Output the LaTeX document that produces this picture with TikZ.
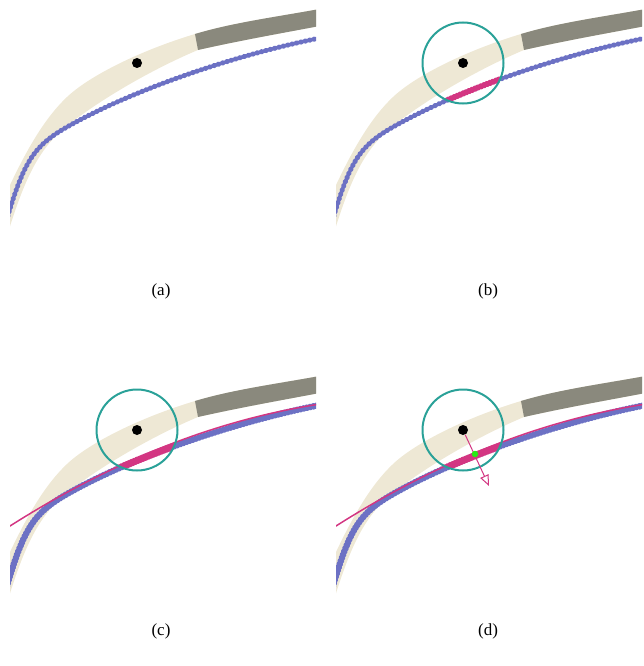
\documentclass[tikz,border=0pt]{standalone}
\usepackage{fontspec}
\setmainfont{Liberation Serif}
\usetikzlibrary{arrows.meta}
\definecolor{beige}{HTML}{EEE8D5}
\definecolor{bandgray}{RGB}{138,137,125}
\definecolor{violetc}{HTML}{6C71C4}
\definecolor{magentac}{HTML}{D33682}
\definecolor{cyanc}{HTML}{2AA198}
\definecolor{greenc}{RGB}{40,235,20}

\newcommand{\fillband}[1]{%
  \fill[#1] (4,198) .. controls (27,147.3) and (45.9,117) .. (67,97)
    .. controls (89.7,75.5) and (140.9,50.3) .. (195,34)
    .. controls (235,22) and (280,16.5) .. (325,8)
    -- (325,25) .. controls (280,33.5) and (240,40.5) .. (198,50)
    .. controls (152.5,69.1) and (100.1,99.5) .. (67,126)
    .. controls (40.6,147.1) and (25.6,174.6) .. (7,236) -- cycle;}
\newcommand{\drawblue}[1]{%
  \draw[#1] (4,229) .. controls (23.2,161.9) and (32.7,146.6) .. (67,127)
    .. controls (129.3,91.5) and (230.5,55.9) .. (320,38);}
\newcommand{\panelbase}[1]{%
  \begin{scope}
    \clip (10,0) rectangle (316,260);
    \fillband{beige}
    \begin{scope}
      \clip (188.6,0) -- (330,0) -- (330,100) -- (207.4,100) -- cycle;
      \fillband{bandgray}
    \end{scope}
    \drawblue{#1}
  \end{scope}}
\newcommand{\pinkpart}[1]{%
  \begin{scope}
    \clip (137,63) circle[radius=40.5];
    \drawblue{#1}
  \end{scope}}
\newcommand{\fitcurve}{%
  \begin{scope}
    \clip (10,0) rectangle (316,260);
    \draw[fitline] plot[domain=5:320, samples=80] (\x, {159 - 0.5514*(\x-10) + 0.000781*(\x-10)*(\x-117)});
  \end{scope}}

\begin{document}
\begin{tikzpicture}[x=1pt, y=-1pt,
  bluedots/.style={violetc, line width=5pt, line cap=round, dash pattern=on 0.7pt off 3.8pt},
  bluethick/.style={violetc, line width=6.4pt, line cap=round, dash pattern=on 1pt off 2.3pt},
  pinkdots/.style={magentac, line width=6pt, line cap=round, dash pattern=on 0.9pt off 2.3pt},
  pinkthick/.style={magentac, line width=7.2pt, line cap=round, dash pattern=on 1.4pt off 1.4pt},
  fitline/.style={magentac, line width=1.5pt},
  ring/.style={circle, draw=cyanc, line width=2pt, minimum size=81pt, inner sep=0pt},
  blackdot/.style={circle, fill=black, minimum size=10pt, inner sep=0pt},
  greendot/.style={circle, fill=greenc, minimum size=6.5pt, inner sep=0pt},
  normalarrow/.style={magentac, line width=1pt, -{Triangle[open, length=11pt, width=9pt]}},
  lab/.style={font=\fontsize{17}{20}\selectfont, inner sep=0pt}]
\useasboundingbox (0,0) rectangle (643,666);

% (a)
\begin{scope}
  \panelbase{bluedots}
  \node[blackdot] (pa) at (137,63) {};
\end{scope}
\node[lab] (la) at (161,291) {(a)};

% (b)
\begin{scope}[shift={(326,0)}]
  \panelbase{bluedots}
  \pinkpart{pinkdots}
  \node[ring] (rb) at (137,63) {};
  \node[blackdot] (pb) at (137,63) {};
\end{scope}
\node[lab] (lb) at (488,291) {(b)};

% (c)
\begin{scope}[shift={(0,367)}]
  \panelbase{bluethick}
  \pinkpart{pinkthick}
  \fitcurve
  \node[ring] (rc) at (137,63) {};
  \node[blackdot] (pc) at (137,63) {};
\end{scope}
\node[lab] (lc) at (161,631) {(c)};

% (d)
\begin{scope}[shift={(326,367)}]
  \panelbase{bluethick}
  \pinkpart{pinkthick}
  \fitcurve
  \node[ring] (rd) at (137,63) {};
  \node[blackdot] (pd) at (137,63) {};
  \coordinate (tipd) at (163,119);
  \draw[normalarrow] (pd) -- (tipd);
  \node[greendot] (gd) at (149,87) {};
\end{scope}
\node[lab] (ld) at (488,631) {(d)};
\end{tikzpicture}
\end{document}
